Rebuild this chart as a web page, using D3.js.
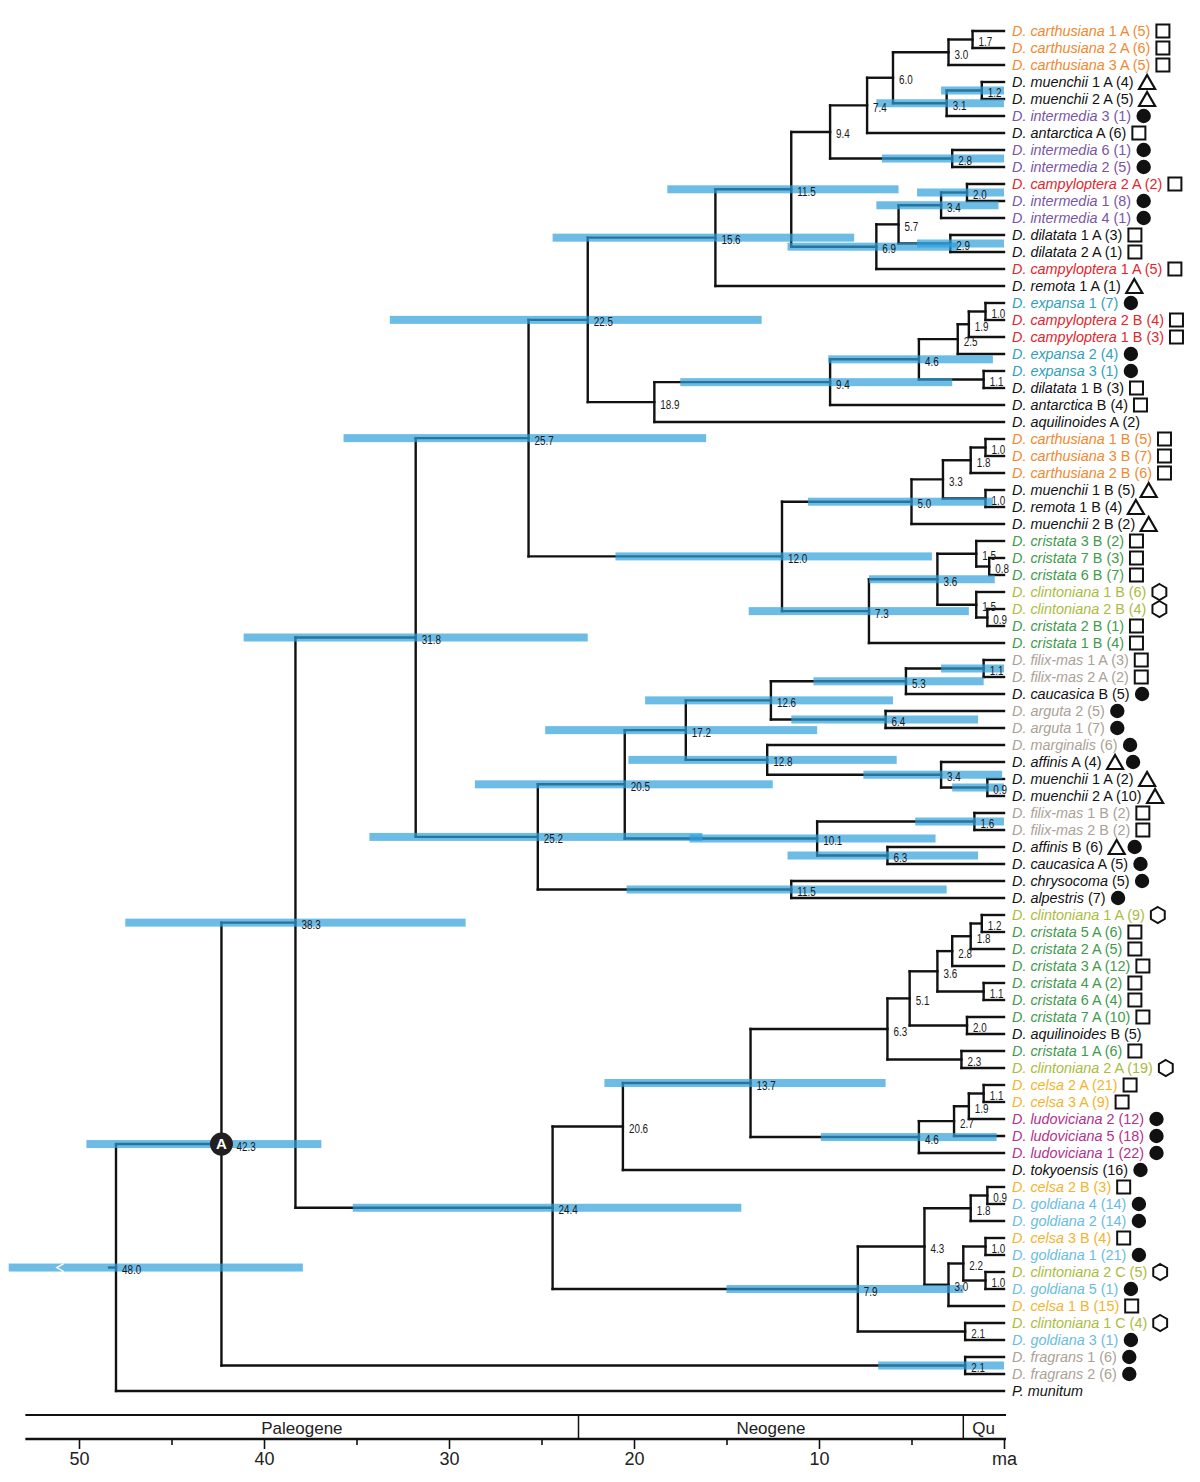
<!DOCTYPE html>
<html><head><meta charset="utf-8">
<script src="https://cdn.jsdelivr.net/npm/d3@7"></script>
<style>
body{margin:0;background:#fff}
svg{display:block}
</style></head><body>
<svg id="chart" width="1200" height="1482"></svg>
<script>
// ---------------- DATA ----------------
const leafTaxa = [
 "D. carthusiana","D. carthusiana","D. carthusiana","D. muenchii","D. muenchii","D. intermedia","D. antarctica",
 "D. intermedia","D. intermedia","D. campyloptera","D. intermedia","D. intermedia","D. dilatata","D. dilatata",
 "D. campyloptera","D. remota","D. expansa","D. campyloptera","D. campyloptera","D. expansa","D. expansa",
 "D. dilatata","D. antarctica","D. aquilinoides","D. carthusiana","D. carthusiana","D. carthusiana","D. muenchii",
 "D. remota","D. muenchii","D. cristata","D. cristata","D. cristata","D. clintoniana","D. clintoniana",
 "D. cristata","D. cristata","D. filix-mas","D. filix-mas","D. caucasica","D. arguta","D. arguta",
 "D. marginalis","D. affinis","D. muenchii","D. muenchii","D. filix-mas","D. filix-mas","D. affinis",
 "D. caucasica","D. chrysocoma","D. alpestris","D. clintoniana","D. cristata","D. cristata","D. cristata",
 "D. cristata","D. cristata","D. cristata","D. aquilinoides","D. cristata","D. clintoniana","D. celsa",
 "D. celsa","D. ludoviciana","D. ludoviciana","D. ludoviciana","D. tokyoensis","D. celsa","D. goldiana",
 "D. goldiana","D. celsa","D. goldiana","D. clintoniana","D. goldiana","D. celsa","D. clintoniana",
 "D. goldiana","D. fragrans","D. fragrans","P. munitum"];
const leafSuffix = [
 " 1 A (5)"," 2 A (6)"," 3 A (5)"," 1 A (4)"," 2 A (5)"," 3 (1)"," A (6)",
 " 6 (1)"," 2 (5)"," 2 A (2)"," 1 (8)"," 4 (1)"," 1 A (3)"," 2 A (1)",
 " 1 A (5)"," 1 A (1)"," 1 (7)"," 2 B (4)"," 1 B (3)"," 2 (4)"," 3 (1)",
 " 1 B (3)"," B (4)"," A (2)"," 1 B (5)"," 3 B (7)"," 2 B (6)"," 1 B (5)",
 " 1 B (4)"," 2 B (2)"," 3 B (2)"," 7 B (3)"," 6 B (7)"," 1 B (6)"," 2 B (4)",
 " 2 B (1)"," 1 B (4)"," 1 A (3)"," 2 A (2)"," B (5)"," 2 (5)"," 1 (7)",
 " (6)"," A (4)"," 1 A (2)"," 2 A (10)"," 1 B (2)"," 2 B (2)"," B (6)",
 " A (5)"," (5)"," (7)"," 1 A (9)"," 5 A (6)"," 2 A (5)"," 3 A (12)",
 " 4 A (2)"," 6 A (4)"," 7 A (10)"," B (5)"," 1 A (6)"," 2 A (19)"," 2 A (21)",
 " 3 A (9)"," 2 (12)"," 5 (18)"," 1 (22)"," (16)"," 2 B (3)"," 4 (14)",
 " 2 (14)"," 3 B (4)"," 1 (21)"," 2 C (5)"," 5 (1)"," 1 B (15)"," 1 C (4)",
 " 3 (1)"," 1 (6)"," 2 (6)",""];
const leafSymbols = [
 "sq","sq","sq","tri","tri","dot","sq",
 "dot","dot","sq","dot","dot","sq","sq",
 "sq","tri","dot","sq","sq","dot","dot",
 "sq","sq","","sq","sq","sq","tri",
 "tri","tri","sq","sq","sq","hex","hex",
 "sq","sq","sq","sq","dot","dot","dot",
 "dot","tri+dot","tri","tri","sq","sq","tri+dot",
 "dot","dot","dot","hex","sq","sq","sq",
 "sq","sq","sq","","sq","hex","sq",
 "sq","dot","dot","dot","dot","sq","dot",
 "dot","sq","dot","hex","dot","sq","hex",
 "dot","dot","dot",""];

// Tree topology: leaves are indices into the arrays above,
// internal nodes are labelled "age" or "age/hpdOld/hpdYoung" (ma)
const clade94  = "(((((0,1)1.7,2)3.0,((3,4)1.2/3.4/0,5)3.1/6.9/0)6.0,6)7.4,(7,8)2.8/6.6/0)9.4";
const clade69  = "((((9,10)2.0/4.7/0,11)3.4/6.9/0.3,(12,13)2.9/4.7/0)5.7,14)6.9/11.7/2.5";
const clade156 = `((${clade94},${clade69})11.5/18.2/5.7,15)15.6/24.4/8.1`;
const clade189 = "((((((16,17)1.0,18)1.9,19)2.5,(20,21)1.1)4.6/9.5/0.6,22)9.4/17.5/2.8,23)18.9";
const clade225 = `(${clade156},${clade189})22.5/33.2/13.1`;
const clade50  = "((((24,25)1.0,26)1.8,(27,28)1.0)3.3,29)5.0/10.6/0.6";
const clade73  = "(((30,(31,32)0.8)1.5,(33,(34,35)0.9)1.5)3.6/7.3/0.5,36)7.3/13.8/1.9";
const clade257 = `(${clade225},(${clade50},${clade73})12.0/21.0/3.9)25.7/35.7/16.1`;
const clade126 = "(((37,38)1.1/3.4/0,39)5.3/10.3/1.1,(40,41)6.4/11.5/1.4)12.6/19.4/6.0";
const clade128 = "(42,(43,(44,45)0.9/2.8/0)3.4/7.6/0.1)12.8/20.3/5.8";
const clade101 = "((46,47)1.6/4.8/0,(48,49)6.3/11.7/1.4)10.1/17.0/3.7";
const clade252 = `(((${clade126},${clade128})17.2/24.8/10.1,${clade101})20.5/28.6/12.5,(50,51)11.5/20.4/3.1)25.2/34.3/16.3`;
const clade318 = `(${clade257},${clade252})31.8/41.1/22.5`;
const clade63  = "((((((52,53)1.2,54)1.8,55)2.8,(56,57)1.1)3.6,(58,59)2.0)5.1,(60,61)2.3)6.3";
const clade46  = "((((62,63)1.1,64)1.9,65)2.7,66)4.6/9.9/0.4";
const clade43  = "(((68,69)0.9,70)1.8,(((71,72)1.0,(73,74)1.0)2.2,75)3.0)4.3";
const clade244 = `(((${clade63},${clade46})13.7/21.6/6.4,67)20.6,(${clade43},(76,77)2.1)7.9/15.0/2.2)24.4/35.2/14.2`;
const treeNewick = `(((${clade318},${clade244})38.3/47.5/29.1,(78,79)2.1/6.8/0)42.3/49.6/36.9,80)48.0/53.8/37.9`;

const markedNodeAge = "42.3";
const markedNodeText = "A";
const rootBarArrowAge = 51.2;   // truncated-interval chevron on the root bar

const periodNames  = ["Paleogene", "Neogene", "Qu"];
const periodBounds = [52.9, 23.0, 2.2, 0];
const majorTicks = [50, 40, 30, 20, 10, 0];
const majorTickLabels = ["50", "40", "30", "20", "10", "ma"];
const minorTicks = [45, 35, 25, 15, 5];

// ---------------- STYLE ----------------
const speciesColor = {
  "carthusiana":"#f0892f","intermedia":"#7a55a4","campyloptera":"#e1252c","expansa":"#2f9fb8",
  "cristata":"#3f9a4b","clintoniana":"#abbb40","filix-mas":"#aba196","arguta":"#aba196",
  "marginalis":"#aba196","celsa":"#f2b42c","ludoviciana":"#b3318a","goldiana":"#6bbce0","fragrans":"#aba196"
};
const INK = "#111";
const FONT = "'Liberation Sans', Arial, Helvetica, sans-serif";

// ---------------- PARSE ----------------
function parseNewick(s){
  let i = 0;
  function readLabel(){ let l=""; while(i<s.length && !",()".includes(s[i])) l+=s[i++]; return l; }
  function node(){
    if (s[i] === "("){
      i++;
      const children=[node()];
      while (s[i]===","){ i++; children.push(node()); }
      i++;
      const p = readLabel().split("/");
      const n = {label:p[0], age:+p[0], children};
      if (p.length>=3) n.hpd=[+p[1], +p[2]];
      return n;
    }
    return {leaf:+readLabel(), age:0};
  }
  return node();
}

const svg = d3.select("#chart");
const x = d3.scaleLinear().domain([52.9, 0]).range([25.35, 1004]);

const root = d3.hierarchy(parseNewick(treeNewick));
const leaves = root.leaves();
const yLeaf = d3.scalePoint().domain(leaves.map(d=>d.data.leaf)).range([31, 1391]);
root.eachAfter(d=>{
  d.py = d.children ? d3.mean(d.children, c=>c.py) : yLeaf(d.data.leaf);
  d.px = x(d.data.age);
});

// ---------------- BRANCHES ----------------
const gBr = svg.append("g").attr("fill","none").attr("stroke",INK).attr("stroke-width",2.4).attr("stroke-linecap","square");
root.descendants().forEach(d=>{
  if (d.parent) gBr.append("path").attr("d",`M${d.parent.px},${d.py}H${d.px}`);
  else gBr.append("path").attr("d",`M${d.px-7},${d.py}H${d.px}`);
  if (d.children){
    const ys = d.children.map(c=>c.py);
    gBr.append("path").attr("d",`M${d.px},${d3.min(ys)}V${d3.max(ys)}`);
  }
});

// ---------------- HPD BARS ----------------
const gBars = svg.append("g");
root.descendants().filter(d=>d.data.hpd).forEach(d=>{
  gBars.append("rect")
    .attr("x", x(d.data.hpd[0])).attr("width", x(d.data.hpd[1]) - x(d.data.hpd[0]))
    .attr("y", d.py-4).attr("height", 8)
    .attr("fill","#2ea0db").attr("fill-opacity",0.7);
});
gBars.append("path")
  .attr("d",`M${x(rootBarArrowAge)+7},${root.py-4}L${x(rootBarArrowAge)},${root.py}L${x(rootBarArrowAge)+7},${root.py+4}`)
  .attr("fill","none").attr("stroke","#fff").attr("stroke-width",1.4);

// ---------------- NODE LABELS ----------------
const gNl = svg.append("g").attr("font-family",FONT).attr("font-size",13).attr("fill","#1a1a1a");
root.descendants().filter(d=>d.children).forEach(d=>{
  let off = 6;
  if (d.data.label === markedNodeAge){
    const m = svg.append("g");
    m.append("circle").attr("cx",d.px).attr("cy",d.py).attr("r",11.5).attr("fill","#231f20");
    m.append("text").attr("x",d.px).attr("y",d.py).attr("dy","0.36em").attr("text-anchor","middle")
      .attr("font-family",FONT).attr("font-weight","bold").attr("font-size",15)
      .attr("fill","#fff").text(markedNodeText);
    off = 15;
  }
  gNl.append("text")
    .attr("transform",`translate(${d.px+off},${d.py+2}) scale(0.76,1)`)
    .attr("dy","0.35em").text(d.data.label);
});

// ---------------- TIP LABELS + SYMBOLS ----------------
const gTips = svg.append("g").attr("font-family",FONT).attr("font-size",14.4);
leaves.forEach(d=>{
  const i = d.data.leaf;
  const sp = leafTaxa[i].split(" ")[1];
  const col = speciesColor[sp] || INK;
  const tx = x(0)+8;
  const t = gTips.append("text").attr("x",tx).attr("y",d.py).attr("dy","0.36em").attr("fill",col);
  t.append("tspan").attr("font-style","italic").text(leafTaxa[i]);
  t.append("tspan").text(leafSuffix[i]);
  let cx = tx + t.node().getComputedTextLength() + 5;
  const cy = d.py;
  leafSymbols[i].split("+").filter(s=>s).forEach(s=>{
    if (s==="sq"){
      gTips.append("rect").attr("x",cx+1).attr("y",cy-6.5).attr("width",13).attr("height",13)
        .attr("fill","#fff").attr("stroke",INK).attr("stroke-width",2);
      cx += 17;
    } else if (s==="dot"){
      gTips.append("circle").attr("cx",cx+7.5).attr("cy",cy).attr("r",7.2).attr("fill",INK);
      cx += 17;
    } else if (s==="tri"){
      gTips.append("path").attr("d",`M${cx+8.5},${cy-7}L${cx+16.5},${cy+7}L${cx+0.5},${cy+7}Z`)
        .attr("fill","#fff").attr("stroke",INK).attr("stroke-width",2.2).attr("stroke-linejoin","miter");
      cx += 19;
    } else if (s==="hex"){
      const r=8, hx=cx+8;
      const pts=d3.range(6).map(k=>{const a=Math.PI/3*k - Math.PI/2; return [hx+r*Math.cos(a), cy+r*Math.sin(a)];});
      gTips.append("path").attr("d","M"+pts.map(p=>p.join(",")).join("L")+"Z")
        .attr("fill","#fff").attr("stroke",INK).attr("stroke-width",2);
      cx += 19;
    }
  });
});

// ---------------- TIME SCALE ----------------
const bandTop = 1415, axisY = 1439;
const gT = svg.append("g");
gT.append("line").attr("x1",x(periodBounds[0])).attr("x2",x(0)+2).attr("y1",bandTop).attr("y2",bandTop)
  .attr("stroke",INK).attr("stroke-width",2);
periodBounds.slice(1,-1).forEach(b=>{
  gT.append("line").attr("x1",x(b)).attr("x2",x(b)).attr("y1",bandTop).attr("y2",axisY).attr("stroke",INK).attr("stroke-width",1.5);
});
periodNames.forEach((n,k)=>{
  gT.append("text").attr("x",(x(periodBounds[k])+x(periodBounds[k+1]))/2).attr("y",(bandTop+axisY)/2+1)
    .attr("dy","0.35em").attr("text-anchor","middle")
    .attr("font-family",FONT).attr("font-size",17).attr("fill","#222").text(n);
});

const axis = d3.axisBottom(x).tickValues(majorTicks).tickFormat((d,k)=>majorTickLabels[k]).tickSize(10).tickSizeOuter(0);
const gA = svg.append("g").attr("transform",`translate(0,${axisY})`).call(axis);
gA.select(".domain").attr("stroke",INK).attr("stroke-width",2.6).attr("d",`M${x(periodBounds[0])},0H${x(0)+2}`);
gA.selectAll(".tick line").attr("stroke",INK).attr("stroke-width",1.6);
gA.selectAll(".tick text").attr("font-family",FONT).attr("font-size",18).attr("fill","#222");
const gM = svg.append("g").attr("transform",`translate(0,${axisY})`)
  .call(d3.axisBottom(x).tickValues(minorTicks).tickFormat("").tickSize(6).tickSizeOuter(0));
gM.select(".domain").remove();
gM.selectAll(".tick line").attr("stroke",INK).attr("stroke-width",1.6);
</script>
</body></html>
